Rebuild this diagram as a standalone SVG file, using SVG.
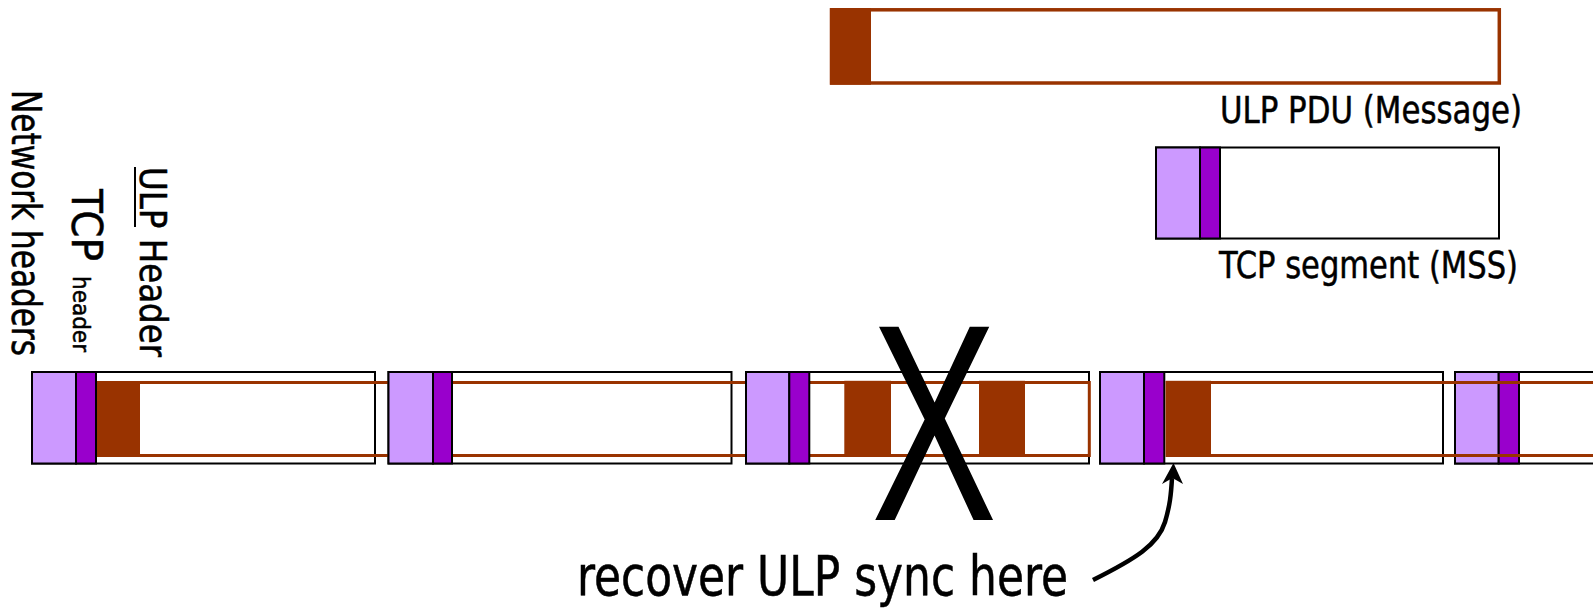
<svg xmlns="http://www.w3.org/2000/svg" width="1593" height="608" viewBox="0 0 1593 608">
  <style>
    .lbl { font-family: "DejaVu Sans", "Liberation Sans", sans-serif; font-stretch: condensed; fill: #000; stroke: #000; stroke-width: 0.5; }
    .mark { font-family: "Liberation Sans", Arial, sans-serif; fill: #000; }
    .seg { fill: #fff; stroke: #000; stroke-width: 2; }
    .net { fill: #CC99FF; stroke: #000; stroke-width: 2; }
    .tcp { fill: #9900CC; stroke: #000; stroke-width: 2; }
    .pdu { fill: none; stroke: #993300; stroke-width: 3; }
    .ulph { fill: #993300; }
  </style>

  <!-- side labels for the header kinds -->
  <g id="label-network-headers">
    <text class="lbl" transform="translate(12,90) rotate(90)" font-size="40" textLength="266" lengthAdjust="spacingAndGlyphs">Network headers</text>
  </g>
  <g id="label-tcp-header">
    <text class="lbl" transform="translate(72,189) rotate(90)" font-size="43" textLength="72" lengthAdjust="spacingAndGlyphs">TCP</text>
    <text class="lbl" transform="translate(73,276) rotate(90)" font-size="23" textLength="76" lengthAdjust="spacingAndGlyphs" stroke-width="0.3">header</text>
  </g>
  <g id="label-ulp-header">
    <text class="lbl" transform="translate(139.5,167) rotate(90)" font-size="37" textLength="190" lengthAdjust="spacingAndGlyphs">ULP Header</text>
    <line x1="135" y1="167" x2="135" y2="227" stroke="#000" stroke-width="2"/>
  </g>

  <!-- legend: ULP PDU -->
  <g id="ulp-pdu">
    <rect x="831.5" y="9.8" width="667.8" height="73.2" fill="none" stroke="#993300" stroke-width="3.5"/>
    <rect x="830" y="8" width="41" height="76.7" class="ulph"/>
    <text class="lbl" x="1220" y="123.3" font-size="37" textLength="302" lengthAdjust="spacingAndGlyphs">ULP PDU (Message)</text>
  </g>

  <!-- legend: TCP segment -->
  <g id="tcp-segment">
    <rect x="1156" y="147.5" width="343" height="91" class="seg"/>
    <rect x="1156" y="147.5" width="44" height="91" class="net"/>
    <rect x="1200" y="147.5" width="20" height="91" class="tcp"/>
    <text class="lbl" x="1219" y="278.3" font-size="38" textLength="299" lengthAdjust="spacingAndGlyphs">TCP segment (MSS)</text>
  </g>

  <!-- segment stream: boxes -->
  <g id="seg1"><rect x="32" y="372" width="343" height="91.5" class="seg"/></g>
  <g id="seg2"><rect x="388.5" y="372" width="343" height="91.5" class="seg"/></g>
  <g id="seg3"><rect x="746" y="372" width="343" height="91.5" class="seg"/></g>
  <g id="seg4"><rect x="1100" y="372" width="343" height="91.5" class="seg"/></g>

  <!-- ULP PDUs carried across the first segments -->
  <g id="pdu-stream-a">
    <rect x="97" y="382.5" width="992.3" height="73" class="pdu"/>
    <rect x="94.5" y="381" width="45.5" height="75" class="ulph"/>
    <rect x="844.3" y="380.8" width="46.7" height="75.8" class="ulph"/>
    <rect x="979" y="380.8" width="46" height="75.8" class="ulph"/>
  </g>

  <!-- network + TCP headers of segments 1-4 -->
  <g id="seg-headers">
    <rect x="32" y="372" width="44" height="91.5" class="net"/>
    <rect x="76" y="372" width="20" height="91.5" class="tcp"/>
    <rect x="388.5" y="372" width="44.5" height="91.5" class="net"/>
    <rect x="433" y="372" width="19" height="91.5" class="tcp"/>
    <rect x="746" y="372" width="43.3" height="91.5" class="net"/>
    <rect x="789.3" y="372" width="20" height="91.5" class="tcp"/>
    <rect x="1100" y="372" width="44" height="91.5" class="net"/>
    <rect x="1144" y="372" width="20.3" height="91.5" class="tcp"/>
  </g>

  <g id="seg5">
    <rect x="1455" y="372" width="343" height="91.5" class="seg"/>
    <rect x="1455" y="372" width="43.7" height="91.5" class="net"/>
    <rect x="1498.7" y="372" width="20.3" height="91.5" class="tcp"/>
  </g>

  <!-- PDUs after resync -->
  <g id="pdu-stream-b">
    <rect x="1167" y="382.5" width="700" height="73" class="pdu"/>
    <rect x="1166" y="380.8" width="45" height="75.8" class="ulph"/>
  </g>

  <!-- lost segment mark -->
  <g id="lost-mark">
    <text class="mark" x="871" y="520" font-size="281" textLength="126" lengthAdjust="spacingAndGlyphs">X</text>
  </g>

  <!-- pointer to the resync point -->
  <g id="connectors">
    <path d="M1093,580 C1135,559 1158,545 1165,522 C1170,505 1171,495 1172,478" fill="none" stroke="#000" stroke-width="4.5"/>
    <polygon points="1173.5,463 1162,484 1172.5,478 1183,484" fill="#000"/>
  </g>

  <g id="label-resync">
    <text class="lbl" x="577" y="595" font-size="55" textLength="491" lengthAdjust="spacingAndGlyphs">recover ULP sync here</text>
  </g>
</svg>
